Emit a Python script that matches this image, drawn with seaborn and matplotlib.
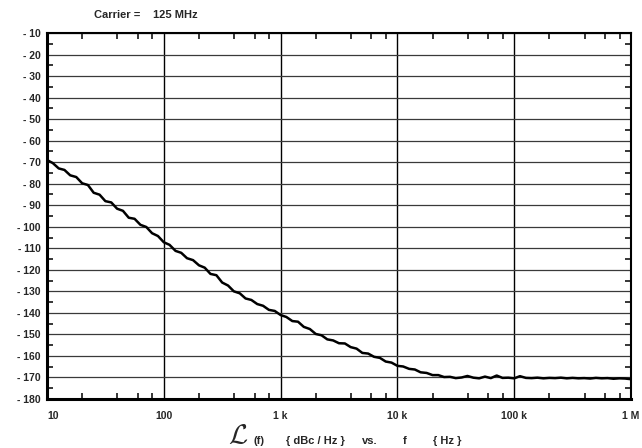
from matplotlib import pyplot as plt
from matplotlib.ticker import FuncFormatter, FixedLocator
import seaborn as sns
import pandas as pd

# offset frequency (Hz)
freq = [
    10, 11.2, 12.6, 14.1, 15.8, 17.8, 20.0, 22.4, 25.1, 28.2,
    31.6, 35.5, 39.8, 44.7, 50.1, 56.2, 63.1, 70.8, 79.4, 89.1,
    100, 112, 126, 141, 158, 178, 200, 224, 251, 282,
    316, 355, 398, 447, 501, 562, 631, 708, 794, 891,
    1000, 1120, 1260, 1410, 1580, 1780, 2000, 2240, 2510, 2820,
    3160, 3550, 3980, 4470, 5010, 5620, 6310, 7080, 7940, 8910,
    10000, 11200, 12600, 14100, 15800, 17800, 20000, 22400, 25100, 28200,
    31600, 35500, 39800, 44700, 50100, 56200, 63100, 70800, 79400, 89100,
    100000, 112000, 126000, 141000, 158000, 178000, 200000, 224000, 251000, 282000,
    316000, 355000, 398000, 447000, 501000, 562000, 631000, 708000, 794000, 891000,
    1000000,
]
# phase noise L(f) in dBc/Hz
noise = [
    -69.0, -70.4, -72.9, -73.6, -76.1, -76.9, -79.8, -80.6, -84.2, -85.1,
    -88.1, -88.7, -91.6, -92.6, -95.8, -96.3, -99.1, -100.1, -103.0, -104.3,
    -107.2, -108.4, -111.2, -112.1, -114.6, -115.5, -117.9, -119.0, -121.9, -122.5,
    -125.9, -127.3, -130.0, -130.9, -133.3, -134.0, -135.9, -136.7, -138.6, -139.1,
    -141.0, -141.9, -143.8, -144.1, -146.5, -147.5, -149.8, -150.4, -152.3, -152.8,
    -154.1, -154.2, -155.9, -156.6, -158.6, -158.9, -160.4, -160.9, -162.6, -163.1,
    -164.6, -164.9, -166.0, -166.3, -167.6, -167.9, -168.9, -168.9, -169.8, -169.7,
    -170.3, -170.0, -169.3, -170.1, -170.4, -169.6, -170.3, -169.1, -170.2, -170.1,
    -170.4, -169.4, -170.2, -170.3, -170.1, -170.4, -170.2, -170.3, -170.1, -170.4,
    -170.2, -170.4, -170.3, -170.5, -170.2, -170.4, -170.3, -170.6, -170.4, -170.5,
    -170.8,
]
decade_ticks = [10, 100, 1000, 10000, 100000, 1000000]
decade_labels = ["10", "100", "1 k", "10 k", "100 k", "1 M"]
minor_ticks = [m * d for d in decade_ticks[:-1] for m in (2, 4, 6, 8)]


def main():
    df = pd.DataFrame({"f": freq, "L": noise})

    sns.set_style("white")
    plt.rcParams["font.family"] = ["Liberation Sans", "DejaVu Sans"]
    plt.rcParams["font.weight"] = "bold"

    fig = plt.figure(figsize=(6.42, 4.48), dpi=100)
    ax = fig.add_axes([47 / 642, 1 - 399 / 448, 584 / 642, 366 / 448])

    sns.lineplot(data=df, x="f", y="L", color="black", linewidth=1.8, ax=ax)

    ax.set_xscale("log")
    ax.set_xlim(10, 1e6)
    ax.set_ylim(-180, -10)

    ax.xaxis.set_major_locator(FixedLocator(decade_ticks))
    ax.xaxis.set_minor_locator(FixedLocator(minor_ticks))
    ax.set_xticklabels(decade_labels)
    ax.set_yticks(range(-180, -9, 10))
    ax.set_yticks(range(-175, -10, 10), minor=True)
    ax.yaxis.set_major_formatter(FuncFormatter(lambda v, _: f"- {abs(int(v))}"))

    ax.grid(True, which="major", axis="x", color="black", linewidth=1.0)
    ax.grid(True, which="major", axis="y", color="#3a3a3a", linewidth=0.9)

    ax.tick_params(which="major", length=0, labelsize=7.5)
    ax.tick_params(axis="x", which="major", pad=8.5)
    ax.tick_params(axis="y", which="major", pad=4.5)
    ax.tick_params(which="minor", direction="in", length=4.3, width=1.1,
                   color="black", top=True, right=True, bottom=True, left=True)
    for lab in ax.get_xticklabels() + ax.get_yticklabels():
        lab.set_fontweight("bold")
    ax.get_xticklabels()[0].set_horizontalalignment("left")

    for side, lw in (("left", 2.2), ("bottom", 2.2), ("top", 1.5), ("right", 1.5)):
        ax.spines[side].set_visible(True)
        ax.spines[side].set_color("black")
        ax.spines[side].set_linewidth(lw)

    ax.set_xlabel("")
    ax.set_ylabel("")

    # header
    fig.text(94 / 642, 1 - 15 / 448, "Carrier =", fontsize=8, fontweight="bold",
             ha="left", va="center")
    fig.text(153 / 642, 1 - 15 / 448, "125 MHz", fontsize=8, fontweight="bold",
             ha="left", va="center")

    # axis caption under the plot
    yc = 1 - 441 / 448
    fig.text(238 / 642, 1 - 436 / 448, r"$\mathcal{L}$", fontsize=20,
             math_fontfamily="cm", ha="center", va="center")
    for x, s in ((253, "(f)"), (286, "{ dBc / Hz }"), (362, "vs."),
                 (403, "f"), (433, "{ Hz }")):
        fig.text(x / 642, yc, s, fontsize=8, fontweight="bold", ha="left", va="center")

    fig.savefig("out.png", dpi=100)


if __name__ == "__main__":
    main()
